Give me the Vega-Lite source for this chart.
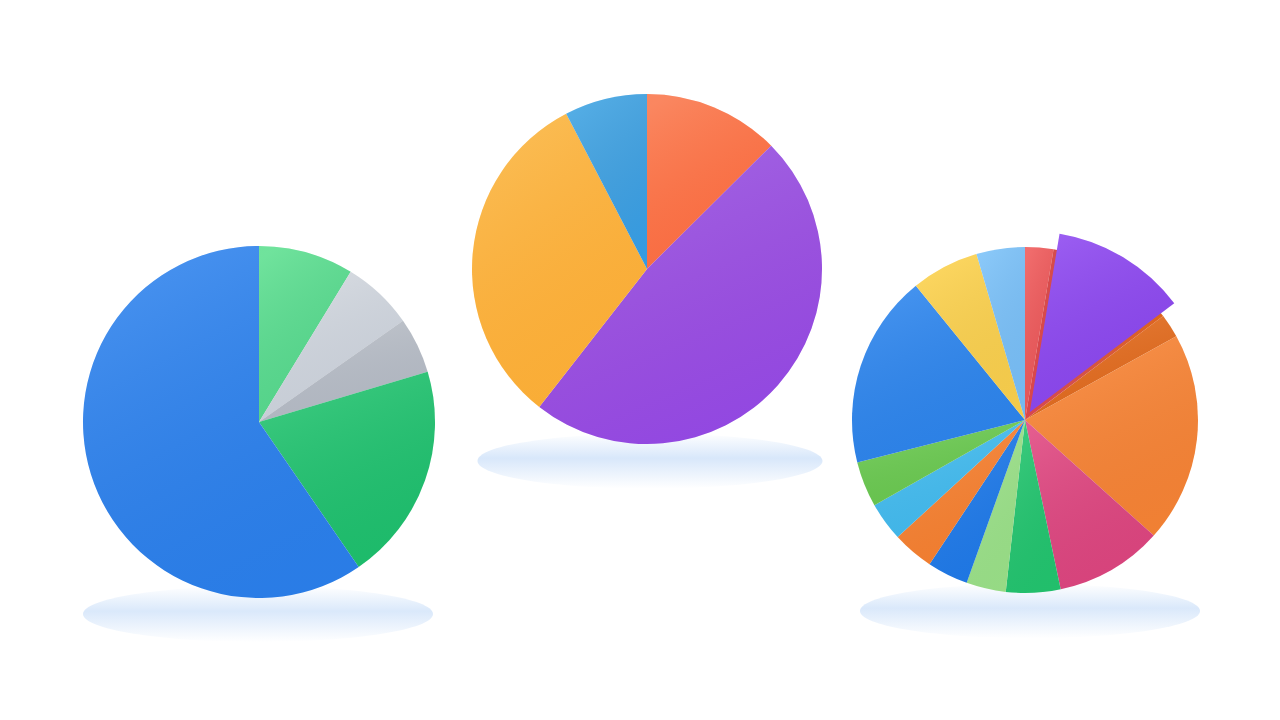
{
  "$schema": "https://vega.github.io/schema/vega-lite/v6.json",
  "width": 1280,
  "height": 720,
  "autosize": {"type": "fit", "contains": "padding"},
  "padding": 0,
  "background": "#ffffff",
  "config": {"view": {"stroke": null}},
  "datasets": {
    "pie1": [
      {"slice": "s1", "deg": 31.4},
      {"slice": "s2", "deg": 23.5},
      {"slice": "s3", "deg": 18.5},
      {"slice": "s4", "deg": 72.1},
      {"slice": "s5", "deg": 214.5}
    ],
    "pie2": [
      {"slice": "s1", "deg": 45.2},
      {"slice": "s2", "deg": 172.8},
      {"slice": "s3", "deg": 114.5},
      {"slice": "s4", "deg": 27.5}
    ],
    "pie3": [
      {"slice": "s01", "deg": 9.5},
      {"slice": "s02", "deg": 43.5},
      {"slice": "s03", "deg": 8.0},
      {"slice": "s04", "deg": 70.9},
      {"slice": "s05", "deg": 36.2},
      {"slice": "s06", "deg": 18.3},
      {"slice": "s07", "deg": 13.3},
      {"slice": "s08", "deg": 13.8},
      {"slice": "s09", "deg": 13.9},
      {"slice": "s10", "deg": 13.1},
      {"slice": "s11", "deg": 15.3},
      {"slice": "s12", "deg": 65.1},
      {"slice": "s13", "deg": 22.8},
      {"slice": "s14", "deg": 16.3}
    ]
  },
  "resolve": {"scale": {"color": "independent"}},
  "layer": [
    {
      "data": {"values": [{}]},
      "mark": {"type": "point", "shape": "M-1,0A1,0.16,0,1,0,1,0A1,0.16,0,1,0,-1,0Z", "size": 122500, "filled": true, "opacity": 1, "strokeWidth": 0,
        "fill": {"gradient": "linear", "x1": 0, "y1": 0, "x2": 0, "y2": 1, "stops": [{"offset": 0, "color": "rgba(214,230,250,0)"}, {"offset": 0.45, "color": "rgba(214,230,250,0.9)"}, {"offset": 1, "color": "rgba(214,230,250,0)"}]}},
      "encoding": {
        "x": {"datum": 258, "type": "quantitative", "scale": {"domain": [0, 1280], "nice": false}, "axis": null},
        "y": {"datum": 614, "type": "quantitative", "scale": {"domain": [0, 720], "nice": false, "reverse": true}, "axis": null}
      }
    },
    {
      "data": {"values": [{}]},
      "mark": {"type": "point", "shape": "M-1,0A1,0.16,0,1,0,1,0A1,0.16,0,1,0,-1,0Z", "size": 119025, "filled": true, "opacity": 1, "strokeWidth": 0,
        "fill": {"gradient": "linear", "x1": 0, "y1": 0, "x2": 0, "y2": 1, "stops": [{"offset": 0, "color": "rgba(214,230,250,0)"}, {"offset": 0.45, "color": "rgba(214,230,250,0.95)"}, {"offset": 1, "color": "rgba(214,230,250,0)"}]}},
      "encoding": {
        "x": {"datum": 650, "type": "quantitative"},
        "y": {"datum": 461, "type": "quantitative"}
      }
    },
    {
      "data": {"values": [{}]},
      "mark": {"type": "point", "shape": "M-1,0A1,0.16,0,1,0,1,0A1,0.16,0,1,0,-1,0Z", "size": 115600, "filled": true, "opacity": 1, "strokeWidth": 0,
        "fill": {"gradient": "linear", "x1": 0, "y1": 0, "x2": 0, "y2": 1, "stops": [{"offset": 0, "color": "rgba(214,230,250,0)"}, {"offset": 0.45, "color": "rgba(214,230,250,0.9)"}, {"offset": 1, "color": "rgba(214,230,250,0)"}]}},
      "encoding": {
        "x": {"datum": 1030, "type": "quantitative"},
        "y": {"datum": 611, "type": "quantitative"}
      }
    },
    {
      "data": {"name": "pie1"},
      "transform": [{"stack": "deg", "groupby": [], "sort": [{"field": "slice", "order": "ascending"}], "as": ["t0", "t1"]}],
      "encoding": {
        "x": {"datum": 259, "type": "quantitative"},
        "y": {"datum": 422, "type": "quantitative"},
        "theta": {"field": "t0", "type": "quantitative", "stack": null, "scale": {"domain": [0, 360]}},
        "theta2": {"field": "t1"}
      },
      "layer": [
        {
          "mark": {"type": "arc", "radius": 176, "stroke": null},
          "encoding": {
            "color": {"field": "slice", "type": "nominal", "legend": null,
              "scale": {"domain": ["s1", "s2", "s3", "s4", "s5"], "range": ["#58DE8C", "#D3D8DE", "#BABFC6", "#1FC46C", "#2C82EE"]}}
          }
        },
        {
          "mark": {"type": "arc", "radius": 176, "stroke": null,
            "fill": {"gradient": "linear", "x1": 0.2, "y1": 0, "x2": 0.6, "y2": 1, "stops": [{"offset": 0, "color": "rgba(255,255,255,0.14)"}, {"offset": 1, "color": "rgba(0,20,80,0.05)"}]}}
        }
      ]
    },
    {
      "data": {"name": "pie2"},
      "transform": [{"stack": "deg", "groupby": [], "sort": [{"field": "slice", "order": "ascending"}], "as": ["t0", "t1"]}],
      "encoding": {
        "x": {"datum": 647, "type": "quantitative"},
        "y": {"datum": 269, "type": "quantitative"},
        "theta": {"field": "t0", "type": "quantitative", "stack": null},
        "theta2": {"field": "t1"}
      },
      "layer": [
        {
          "mark": {"type": "arc", "radius": 175, "stroke": null},
          "encoding": {
            "color": {"field": "slice", "type": "nominal", "legend": null,
              "scale": {"domain": ["s1", "s2", "s3", "s4"], "range": ["#F96C46", "#8C46F0", "#FAB23A", "#2A9EEE"]}}
          }
        },
        {
          "mark": {"type": "arc", "radius": 175, "stroke": null,
            "fill": {"gradient": "linear", "x1": 0.2, "y1": 0, "x2": 0.6, "y2": 1, "stops": [{"offset": 0, "color": "rgba(255,240,200,0.2)"}, {"offset": 1, "color": "rgba(240,100,0,0.06)"}]}}
        }
      ]
    },
    {
      "data": {"name": "pie3"},
      "transform": [
        {"stack": "deg", "groupby": [], "sort": [{"field": "slice", "order": "ascending"}], "as": ["t0", "t1"]},
        {"filter": "datum.slice !== 's02'"}
      ],
      "encoding": {
        "x": {"datum": 1025, "type": "quantitative"},
        "y": {"datum": 420, "type": "quantitative"},
        "theta": {"field": "t0", "type": "quantitative", "stack": null},
        "theta2": {"field": "t1"}
      },
      "layer": [
        {
          "mark": {"type": "arc", "radius": 173, "stroke": null},
          "encoding": {
            "color": {"field": "slice", "type": "nominal", "legend": null,
              "scale": {
                "domain": ["s01", "s03", "s04", "s05", "s06", "s07", "s08", "s09", "s10", "s11", "s12", "s13", "s14"],
                "range": ["#EF5858", "#E56C1C", "#FA8534", "#E0467F", "#23C66E", "#9CE388", "#1F7BEA", "#FA822F", "#43BDF0", "#6BCB4F", "#2D86EE", "#FDD24C", "#7AC1F8"]}}
          }
        },
        {
          "mark": {"type": "arc", "radius": 173, "stroke": null,
            "fill": {"gradient": "linear", "x1": 0.2, "y1": 0, "x2": 0.6, "y2": 1, "stops": [{"offset": 0, "color": "rgba(255,255,255,0.12)"}, {"offset": 1, "color": "rgba(0,0,40,0.04)"}]}}
        }
      ]
    },
    {
      "data": {"name": "pie3"},
      "transform": [
        {"stack": "deg", "groupby": [], "sort": [{"field": "slice", "order": "ascending"}], "as": ["t0", "t1"]},
        {"filter": "datum.slice === 's02'"}
      ],
      "encoding": {
        "theta": {"field": "t0", "type": "quantitative", "stack": null},
        "theta2": {"field": "t1"}
      },
      "layer": [
        {
          "mark": {"type": "arc", "radius": 173, "stroke": null,
            "fill": {"gradient": "linear", "x1": 0, "y1": 0, "x2": 1, "y2": 0, "stops": [{"offset": 0, "color": "#D9464C"}, {"offset": 0.35, "color": "#D4504A"}, {"offset": 1, "color": "#DE661C"}]}},
          "encoding": {
            "x": {"datum": 1025, "type": "quantitative"},
            "y": {"datum": 420, "type": "quantitative"}
          }
        },
        {
          "mark": {"type": "arc", "radius": 181, "stroke": null},
          "encoding": {
            "x": {"datum": 1029.7, "type": "quantitative"},
            "y": {"datum": 412.3, "type": "quantitative"},
            "color": {"field": "slice", "type": "nominal", "legend": null,
              "scale": {"domain": ["s02"], "range": ["#8D47F0"]}}
          }
        },
        {
          "mark": {"type": "arc", "radius": 181, "stroke": null,
            "fill": {"gradient": "linear", "x1": 0.2, "y1": 0, "x2": 0.6, "y2": 1, "stops": [{"offset": 0, "color": "rgba(255,255,255,0.12)"}, {"offset": 1, "color": "rgba(0,0,40,0.04)"}]}},
          "encoding": {
            "x": {"datum": 1029.7, "type": "quantitative"},
            "y": {"datum": 412.3, "type": "quantitative"}
          }
        }
      ]
    }
  ]
}
